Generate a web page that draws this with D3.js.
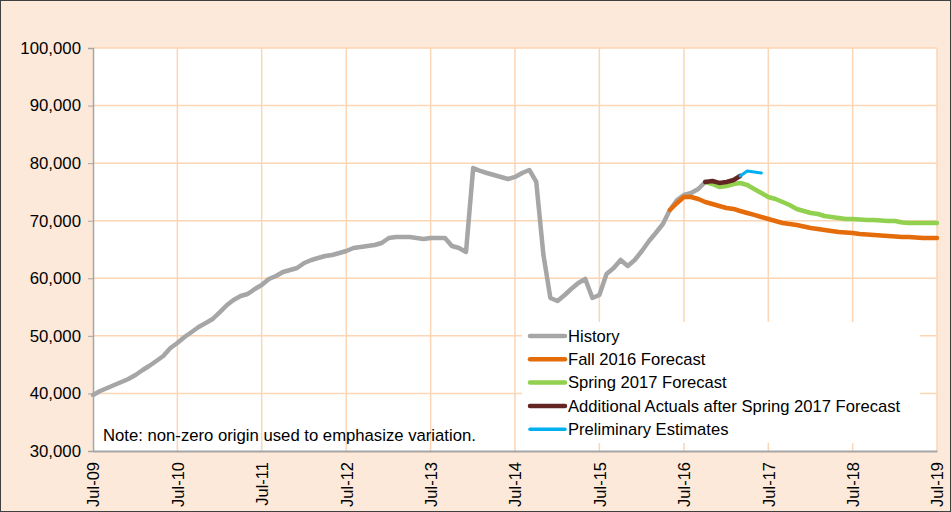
<!DOCTYPE html>
<html>
<head>
<meta charset="utf-8">
<script src="https://cdn.jsdelivr.net/npm/d3@7"></script>
<style>
    body { margin: 0; background: #fff; }
    #viz-1 { width: 951px; height: 512px; }
    text { font-family: "Liberation Sans", Arial, sans-serif; fill: #000; }
</style>
</head>
<body>
<div id="viz-1"></div>
<script>
// monthly series, each one starts at its own month
var historyStart = "2009-07";
var historyValues = [39730, 40420, 40940, 41460, 41990, 42510, 43200, 44070, 44760, 45630, 46500, 47890,
    48760, 49800, 50670, 51540, 52230, 52930, 54140, 55360, 56230, 56920, 57270, 58140,
    58830, 59880, 60400, 61090, 61440, 61790, 62660, 63180, 63520, 63870, 64050, 64390,
    64740, 65260, 65430, 65610, 65780, 66130, 67000, 67170, 67170, 67170, 67000, 66820,
    67000, 67000, 67000, 65610, 65260, 64570, 79160, 78640, 78290, 77940, 77600, 77250,
    77600, 78290, 78810, 76730, 64050, 56580, 56060, 57100, 58140, 59180, 59880, 56580,
    57100, 60750, 61790, 63180, 62140, 63180, 64740, 66480, 67870, 69430, 71860, 73600,
    74470, 74810, 75510, 76730];

var fallStart = "2016-05";
var fallValues = [71860, 73080, 74120, 74120, 73770, 73250, 72900, 72560, 72210, 72040, 71690, 71340,
    71000, 70650, 70300, 69950, 69600, 69430, 69260, 69000, 68740, 68560, 68390, 68210,
    68040, 67950, 67870, 67690, 67610, 67520, 67430, 67350, 67260, 67170, 67170, 67090,
    67000, 67000, 67000];

var springStart = "2016-10";
var springValues = [76730, 76380, 75860, 76030, 76380, 76550, 76200, 75510, 74810, 74120, 73770, 73250,
    72730, 72040, 71690, 71340, 71170, 70820, 70650, 70470, 70300, 70300, 70210, 70120,
    70120, 70040, 69950, 69950, 69690, 69600, 69600, 69600, 69600, 69600];

var actualsStart = "2016-10";
var actualsValues = [76730, 76900, 76560, 76730, 77070, 77770];

var prelimStart = "2017-03";
var prelimValues = [77770, 78640, 78460, 78290];

var tickLabels = ["Jul-09", "Jul-10", "Jul-11", "Jul-12", "Jul-13", "Jul-14", "Jul-15", "Jul-16", "Jul-17", "Jul-18", "Jul-19"];
var yTicks = [30000, 40000, 50000, 60000, 70000, 80000, 90000, 100000];

var seriesNames = ["History", "Fall 2016 Forecast", "Spring 2017 Forecast", "Additional Actuals after Spring 2017 Forecast", "Preliminary Estimates"];
var seriesColors = ["#A6A6A6", "#E46C0A", "#92D050", "#632523", "#00B0F0"];

var noteText = "Note: non-zero origin used to emphasize variation.";

var parseMonth = d3.timeParse("%Y-%m");
var parseTick = d3.timeParse("%b-%y");

function toPoints(start, values) {
    var s = parseMonth(start);
    return values.map(function (v, i) {
        return { date: d3.timeMonth.offset(s, i), value: v };
    });
}

drawChart();

function drawChart() {
    var vWidth = 951, vHeight = 512;
    var margin = { top: 48, right: 14, bottom: 61, left: 93 };

    var svg = d3.select("#viz-1").append("svg")
        .attr("width", vWidth).attr("height", vHeight);

    // outer chart area
    svg.append("rect")
        .attr("x", 0.5).attr("y", 0.5)
        .attr("width", vWidth - 1).attr("height", vHeight - 1)
        .attr("fill", "#FDE9D9")
        .attr("stroke", "#404040").attr("stroke-width", 1);

    var tickDates = tickLabels.map(function (t) { return parseTick(t); });

    var x = d3.scaleTime()
        .domain([tickDates[0], tickDates[tickDates.length - 1]])
        .range([margin.left, vWidth - margin.right]);
    var y = d3.scaleLinear()
        .domain([30000, 100000])
        .range([vHeight - margin.bottom, margin.top]);

    // plot area
    svg.append("rect")
        .attr("x", x.range()[0]).attr("y", y.range()[1])
        .attr("width", x.range()[1] - x.range()[0])
        .attr("height", y.range()[0] - y.range()[1])
        .attr("fill", "#fff");

    // gridlines
    svg.append("g").selectAll("line").data(yTicks.slice(1)).enter().append("line")
        .attr("x1", x.range()[0]).attr("x2", x.range()[1])
        .attr("y1", function (d) { return y(d); })
        .attr("y2", function (d) { return y(d); })
        .attr("stroke", "#FCD5B4").attr("stroke-width", 1.5);

    svg.append("g").selectAll("line").data(tickDates.slice(1)).enter().append("line")
        .attr("x1", function (d) { return x(d); })
        .attr("x2", function (d) { return x(d); })
        .attr("y1", y.range()[1]).attr("y2", y.range()[0])
        .attr("stroke", "#FCD5B4").attr("stroke-width", 1.5);

    // y axis
    var yAxis = svg.append("g")
        .attr("transform", "translate(" + x.range()[0] + ",0)")
        .call(d3.axisLeft(y).tickValues(yTicks).tickFormat(d3.format(",")).tickSize(5).tickPadding(7));
    yAxis.select(".domain").attr("stroke", "#A6A6A6").attr("stroke-width", 1.5);
    yAxis.selectAll(".tick line").attr("stroke", "#A6A6A6");
    yAxis.selectAll("text")
        .style("font-family", "Liberation Sans, Arial, sans-serif")
        .style("font-size", "16.8px").attr("fill", "#000");

    // x axis
    var xAxis = svg.append("g")
        .attr("transform", "translate(0," + y.range()[0] + ")")
        .call(d3.axisBottom(x).tickValues(tickDates).tickFormat(d3.timeFormat("%b-%y")).tickSize(0));
    xAxis.select(".domain").attr("stroke", "#A6A6A6").attr("stroke-width", 2);
    xAxis.selectAll("text")
        .style("font-family", "Liberation Sans, Arial, sans-serif")
        .style("font-size", "16.5px").attr("fill", "#000")
        .attr("transform", "rotate(-90)")
        .attr("text-anchor", "end")
        .attr("x", -11).attr("y", 0).attr("dy", "0.35em");

    // note
    svg.append("text")
        .attr("x", 103).attr("y", 441)
        .style("font-size", "16.7px")
        .text(noteText);

    // series
    var line = d3.line()
        .x(function (d) { return x(d.date); })
        .y(function (d) { return y(d.value); });

    var series = [
        toPoints(historyStart, historyValues),
        toPoints(fallStart, fallValues),
        toPoints(springStart, springValues),
        toPoints(actualsStart, actualsValues),
        toPoints(prelimStart, prelimValues)
    ];

    svg.append("g").selectAll("path").data(series).enter().append("path")
        .attr("d", line)
        .attr("fill", "none")
        .attr("stroke", function (d, i) { return seriesColors[i]; })
        .attr("stroke-width", function (d, i) { return i == 4 ? 3 : 4.5; })
        .attr("stroke-linejoin", "round")
        .attr("stroke-linecap", "round");

    // legend
    var legend = svg.append("g");
    legend.append("rect")
        .attr("x", 522).attr("y", 322)
        .attr("width", 398).attr("height", 121)
        .attr("fill", "#fff");

    var keys = legend.selectAll(".key").data(seriesNames).enter().append("g")
        .attr("class", "key")
        .attr("transform", function (d, i) { return "translate(530," + (336 + i * 23.3) + ")"; });

    keys.append("line")
        .attr("x1", 0).attr("x2", 35)
        .attr("stroke", function (d, i) { return seriesColors[i]; })
        .attr("stroke-width", function (d, i) { return i == 4 ? 3.5 : 4.5; })
        .attr("stroke-linecap", "round");

    keys.append("text")
        .attr("x", 38).attr("dy", "0.35em")
        .style("font-size", "16.6px")
        .text(function (d) { return d; });
}
</script>
</body>
</html>
